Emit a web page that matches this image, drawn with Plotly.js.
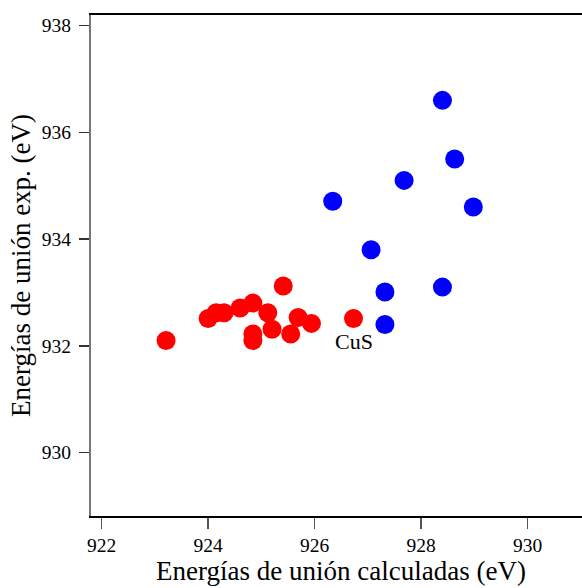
<!DOCTYPE html>
<html>
<head>
<meta charset="utf-8">
<script src="https://cdn.plot.ly/plotly-3.0.1.min.js"></script>
<style>html,body{margin:0;padding:0;background:#fff;overflow:hidden;width:582px;height:588px;}</style>
</head>
<body>
<div id="chart" style="width:591px;height:588px;"></div>
<script>
var blueX = [928.40, 928.63, 927.68, 926.34, 928.98, 927.06, 927.32, 928.40, 927.32];
var blueY = [936.60, 935.50, 935.10, 934.71, 934.60, 933.80, 933.01, 933.10, 932.40];
var redX = [923.21, 924.00, 924.15, 924.30, 924.60, 924.84, 924.84, 924.84, 925.41, 925.12, 925.20, 925.55, 925.69, 925.94, 926.73];
var redY = [932.10, 932.51, 932.62, 932.62, 932.71, 932.80, 932.22, 932.10, 933.12, 932.62, 932.31, 932.22, 932.53, 932.42, 932.51];
var labelText = ["CuS"];
var labelX = [926.73];
var labelY = [932.08];
var xTicks = [922, 924, 926, 928, 930];
var yTicks = [930, 932, 934, 936, 938];

var serif = "Liberation Serif, Times New Roman, serif";

var traces = [
  {x: redX, y: redY, mode: "markers", type: "scatter",
   marker: {color: "#ff0000", size: 19, line: {width: 0}}, showlegend: false, hoverinfo: "none"},
  {x: blueX, y: blueY, mode: "markers", type: "scatter",
   marker: {color: "#0000ff", size: 19, line: {width: 0}}, showlegend: false, hoverinfo: "none"}
];

var annotations = labelText.map(function(t, i){
  return {x: labelX[i], y: labelY[i], text: t, showarrow: false,
          xanchor: "center", yanchor: "middle",
          font: {family: serif, size: 22, color: "#000"}};
});

var layout = {
  width: 591, height: 588,
  margin: {l: 91, r: 0, t: 15, b: 72},
  paper_bgcolor: "#fff", plot_bgcolor: "#fff",
  font: {family: serif, color: "#000"},
  xaxis: {
    range: [921.8, 931.19], tickvals: xTicks, ticktext: xTicks.map(String),
    showgrid: false, zeroline: false, showline: true, linecolor: "#000", linewidth: 2,
    mirror: true, ticks: "outside", ticklen: 11, tickwidth: 1.5, tickcolor: "#555",
    tickfont: {family: serif, size: 19.5, color: "#000"},
    title: {text: "Energías de unión calculadas (eV)", font: {family: serif, size: 27, color: "#000"}, standoff: 0}
  },
  yaxis: {
    range: [928.81, 938.2], tickvals: yTicks, ticktext: yTicks.map(String),
    showgrid: false, zeroline: false, showline: true, linecolor: "#777", linewidth: 2,
    ticks: "outside", ticklen: 10, tickwidth: 1.5, tickcolor: "#333", ticklabelstandoff: 4,
    tickfont: {family: serif, size: 19.5, color: "#000"},
    title: {text: "Energías de unión exp. (eV)", font: {family: serif, size: 27, color: "#000"}, standoff: 3}
  },
  annotations: annotations
};

Plotly.newPlot("chart", traces, layout, {displayModeBar: false, staticPlot: true});
</script>
</body>
</html>
